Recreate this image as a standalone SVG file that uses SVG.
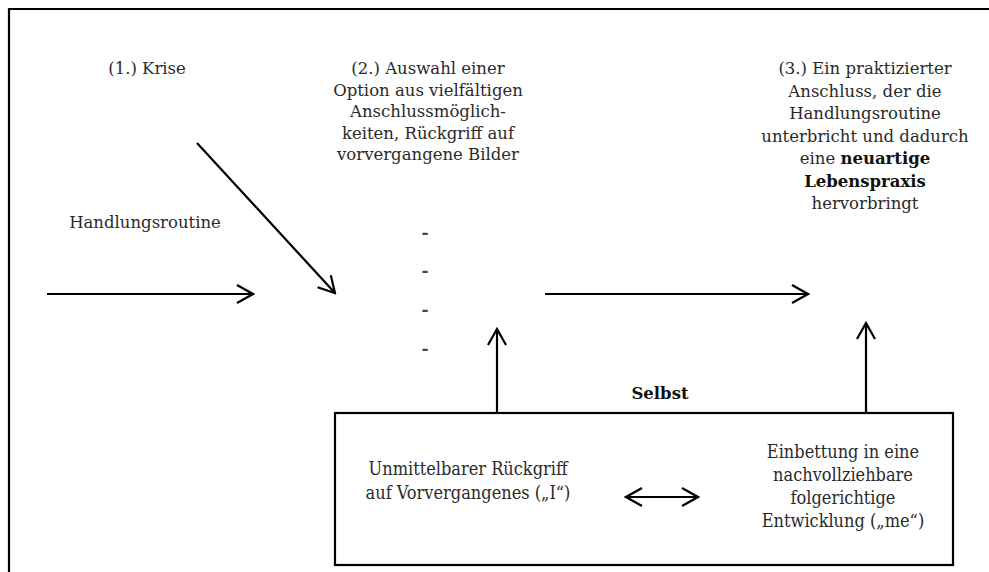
<svg xmlns="http://www.w3.org/2000/svg" width="989" height="572" viewBox="0 0 989 572">
<style>
  text { font-family: "DejaVu Serif", "Liberation Serif", serif; font-size: 16.5px; fill: #2a2a2a; text-anchor: middle; }
  .b { font-weight: bold; fill: #111; }
  .box { font-stretch: condensed; font-size: 18px; }
  .dash { font-weight: bold; font-size: 17px; fill: #444; }
  .ln { stroke: #000; stroke-width: 2.2; fill: none; }
</style>
<defs>
  <marker id="ah" viewBox="0 0 20 22" refX="18" refY="11" markerWidth="20" markerHeight="22" markerUnits="userSpaceOnUse" orient="auto-start-reverse">
    <path d="M2,2 L18,11 L2,20" fill="none" stroke="#000" stroke-width="2.2"/>
  </marker>
</defs>
<rect width="989" height="572" fill="#fff"/>
<g id="frame">
  <path class="ln" d="M9,572 V9 H989"/>
</g>
<g id="krise"><text x="147" y="74">(1.) Krise</text></g>
<g id="handlungsroutine"><text x="145" y="228">Handlungsroutine</text></g>
<g id="auswahl">
  <text x="428" y="74">(2.) Auswahl einer</text>
  <text x="428" y="95.5">Option aus vielfältigen</text>
  <text x="428" y="117">Anschlussmöglich-</text>
  <text x="428" y="138.5">keiten, Rückgriff auf</text>
  <text x="428" y="160">vorvergangene Bilder</text>
</g>
<g id="dashes">
  <text class="dash" x="425" y="238">-</text>
  <text class="dash" x="425" y="276">-</text>
  <text class="dash" x="425" y="315">-</text>
  <text class="dash" x="425" y="354">-</text>
</g>
<g id="anschluss">
  <text x="865" y="74">(3.) Ein praktizierter</text>
  <text x="865" y="96.5">Anschluss, der die</text>
  <text x="865" y="119">Handlungsroutine</text>
  <text x="865" y="141.5">unterbricht und dadurch</text>
  <text x="865" y="164">eine <tspan class="b">neuartige</tspan></text>
  <text x="865" y="186.5" class="b">Lebenspraxis</text>
  <text x="865" y="209">hervorbringt</text>
</g>
<g id="selbst">
  <text x="660" y="399" class="b">Selbst</text>
  <rect x="335" y="413" width="618" height="152" class="ln"/>
  <text class="box" x="468" y="475">Unmittelbarer Rückgriff</text>
  <text class="box" x="468" y="499">auf Vorvergangenes („I“)</text>
  <text class="box" x="843" y="458">Einbettung in eine</text>
  <text class="box" x="843" y="481">nachvollziehbare</text>
  <text class="box" x="843" y="504">folgerichtige</text>
  <text class="box" x="843" y="527">Entwicklung („me“)</text>
</g>
<g id="connectors">
  <line class="ln" x1="47" y1="294" x2="253" y2="294" marker-end="url(#ah)"/>
  <line class="ln" x1="197" y1="143" x2="335" y2="293" marker-end="url(#ah)"/>
  <line class="ln" x1="545" y1="294" x2="808" y2="294" marker-end="url(#ah)"/>
  <line class="ln" x1="497" y1="413" x2="497" y2="329" marker-end="url(#ah)"/>
  <line class="ln" x1="866" y1="413" x2="866" y2="323" marker-end="url(#ah)"/>
  <line class="ln" x1="626" y1="497" x2="698" y2="497" marker-start="url(#ah)" marker-end="url(#ah)"/>
</g>
</svg>
